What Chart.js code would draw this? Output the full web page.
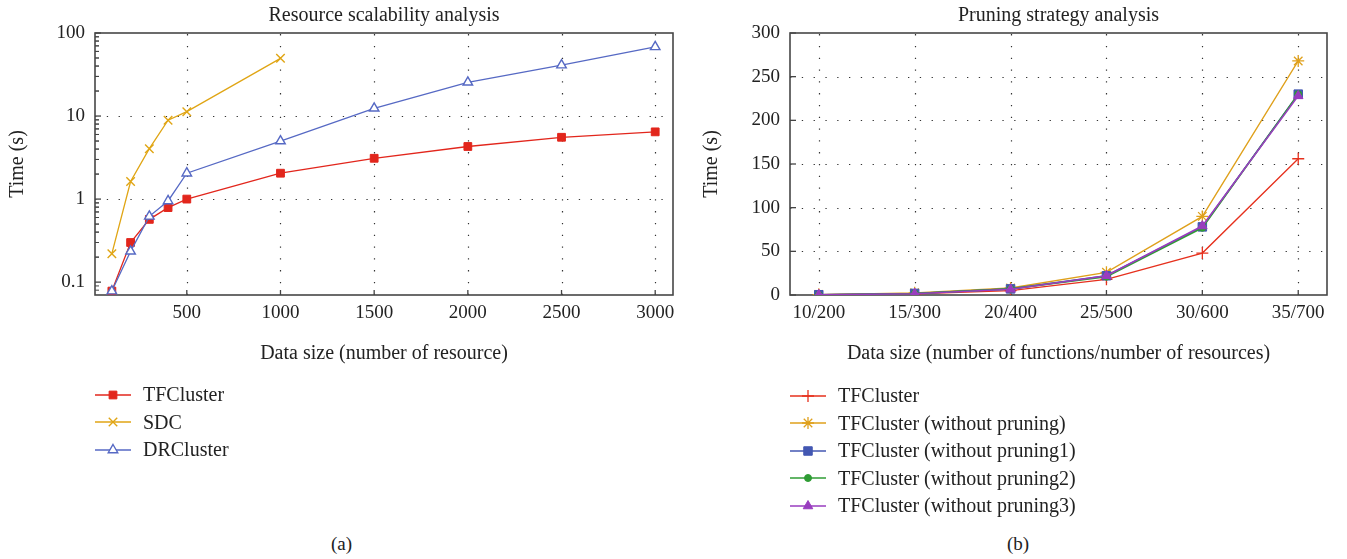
<!DOCTYPE html>
<html>
<head>
<meta charset="utf-8">
<title>Resource scalability and pruning strategy</title>
<script src="https://cdn.jsdelivr.net/npm/chart.js@4.4.1/dist/chart.umd.min.js"></script>
<style>
    body {
        margin: 0;
        background: #fff;
        width: 1347px;
        height: 559px;
        position: relative;
        overflow: hidden;
        font-family: "Liberation Serif", "DejaVu Serif", serif;
        color: #222;
    }
    .box { position: absolute; top: 0; height: 370px; }
    #boxA { left: 0; width: 690px; }
    #boxB { left: 690px; width: 657px; }
    .legend { position: absolute; font-size: 20px; }
    .legend .item { height: 27.5px; display: flex; align-items: center; white-space: nowrap; }
    .legend canvas { margin-right: 12px; }
    .caption { position: absolute; top: 533px; font-size: 19px; }
</style>
</head>
<body>
<div class="box" id="boxA"><canvas id="scalabilityChart"></canvas></div>
<div class="box" id="boxB"><canvas id="pruningChart"></canvas></div>
<div class="legend" id="legendA" style="left:95px; top:381px;"></div>
<div class="legend" id="legendB" style="left:790px; top:382px;"></div>
<div class="caption" style="left:331px;">(a)</div>
<div class="caption" style="left:1007px;">(b)</div>

<script>
// (a) resource scalability
const sizes = [100, 200, 300, 400, 500, 1000, 1500, 2000, 2500, 3000];
const sdcSizes = [100, 200, 300, 400, 500, 1000];
const tfcTimes = [0.078, 0.30, 0.57, 0.79, 1.0, 2.05, 3.1, 4.3, 5.55, 6.45];
const sdcTimes = [0.22, 1.63, 4.05, 8.9, 11.3, 49.5];
const drcTimes = [0.078, 0.235, 0.62, 0.95, 2.05, 5.0, 12.4, 25.5, 41, 68];
const xTicksA = [500, 1000, 1500, 2000, 2500, 3000];
const yTicksA = [0.1, 1, 10, 100];

// (b) pruning strategy
const groups = ['10/200', '15/300', '20/400', '25/500', '30/600', '35/700'];
const tfcPrune = [0.3, 1.2, 5, 18, 48, 156];
const noPrune = [0.5, 2.5, 8, 26, 90, 268];
const noPrune1 = [0.3, 1.8, 7, 22, 78, 230];
const noPrune2 = [0.3, 1.8, 7, 21, 77, 230];
const noPrune3 = [0.3, 1.5, 6.5, 22, 79, 228];
const yTicksB = [0, 50, 100, 150, 200, 250, 300];

const FAMILY = '"Liberation Serif", "DejaVu Serif", serif';
const FONT = { family: FAMILY, size: 20 };
const TICK_FONT = { family: FAMILY, size: 19 };
const INK = '#222';

// dotted grid, inward ticks and the box around the plot
const framePlugin = {
    id: 'frame',
    beforeDatasetsDraw(chart) {
        const { ctx, chartArea: a, scales: { x, y } } = chart;
        const isLog = y.type === 'logarithmic';
        ctx.save();
        ctx.strokeStyle = '#333';
        ctx.lineWidth = 1.2;
        ctx.setLineDash([1.3, 10.5]);
        x.ticks.forEach(t => {
            const px = Math.round(x.getPixelForValue(t.value)) + 0.5;
            if (px > a.left + 2 && px < a.right - 2) {
                ctx.beginPath(); ctx.moveTo(px, a.bottom); ctx.lineTo(px, a.top); ctx.stroke();
            }
        });
        y.ticks.forEach(t => {
            const py = Math.round(y.getPixelForValue(t.value)) + 0.5;
            if (isLog && t.value < 1) return;
            if (py > a.top + 2 && py < a.bottom - 2) {
                ctx.beginPath(); ctx.moveTo(a.left, py); ctx.lineTo(a.right, py); ctx.stroke();
            }
        });
        ctx.setLineDash([]);

        ctx.strokeStyle = '#444';
        ctx.lineWidth = 1.3;
        x.ticks.forEach(t => {
            const px = x.getPixelForValue(t.value);
            ctx.beginPath(); ctx.moveTo(px, a.bottom); ctx.lineTo(px, a.bottom - 5); ctx.stroke();
        });
        y.ticks.forEach(t => {
            const py = y.getPixelForValue(t.value);
            ctx.beginPath(); ctx.moveTo(a.left, py); ctx.lineTo(a.left + 6, py); ctx.stroke();
        });
        if (isLog) {
            ctx.lineWidth = 1;
            yTicksA.forEach(d => {
                for (let k = 2; k <= 9; k++) {
                    [d * k, d * k / 10].forEach(v => {
                        if (v <= y.min || v >= y.max) return;
                        const py = y.getPixelForValue(v);
                        ctx.beginPath(); ctx.moveTo(a.left, py); ctx.lineTo(a.left + 4, py); ctx.stroke();
                    });
                }
            });
        }

        ctx.strokeStyle = '#474747';
        ctx.lineWidth = 1.6;
        ctx.strokeRect(a.left, a.top, a.right - a.left, a.bottom - a.top);
        ctx.restore();
    }
};

function axisTitle(text, pad) {
    return { display: true, text: text, font: FONT, color: INK, padding: pad };
}

function chartTitle(text) {
    return {
        display: true, text: text, fullSize: false,
        font: { ...FONT, weight: 'normal' }, color: INK,
        padding: { top: 4, bottom: 5 }
    };
}

const common = {
    responsive: true,
    maintainAspectRatio: false,
    animation: false,
    events: [],
    elements: { line: { tension: 0 } }
};

const noGrid = { display: false, drawTicks: false };

const scalabilityChart = new Chart(document.getElementById('scalabilityChart').getContext('2d'), {
    type: 'line',
    data: {
        datasets: [{
            label: 'TFCluster',
            data: sizes.map((s, i) => ({ x: s, y: tfcTimes[i] })),
            borderColor: '#e2261c', backgroundColor: '#e2261c',
            borderWidth: 1.3, pointStyle: 'rect', pointRadius: 5.5, pointBorderWidth: 1,
            order: 3
        }, {
            label: 'SDC',
            data: sdcSizes.map((s, i) => ({ x: s, y: sdcTimes[i] })),
            borderColor: '#e0a514', backgroundColor: '#e0a514',
            borderWidth: 1.3, pointStyle: 'crossRot', pointRadius: 6, pointBorderWidth: 1.4,
            order: 2
        }, {
            label: 'DRCluster',
            data: sizes.map((s, i) => ({ x: s, y: drcTimes[i] })),
            borderColor: '#5669c4', backgroundColor: '#5669c4', pointBackgroundColor: '#fff',
            borderWidth: 1.3, pointStyle: 'triangle', pointRadius: 5.5, pointBorderWidth: 1.4,
            order: 1
        }]
    },
    options: {
        ...common,
        layout: { padding: { left: 0, right: 17, top: 0, bottom: 0 } },
        plugins: {
            legend: { display: false },
            tooltip: { enabled: false },
            title: chartTitle('Resource scalability analysis')
        },
        scales: {
            x: {
                type: 'linear', min: 10, max: 3095,
                afterBuildTicks: s => { s.ticks = xTicksA.map(v => ({ value: v })); },
                afterFit: s => { s.height = 75; },
                grid: noGrid, border: { display: false },
                ticks: { font: TICK_FONT, color: INK, padding: 7, autoSkip: false, maxRotation: 0, callback: v => String(v) },
                title: axisTitle('Data size (number of resource)', { top: 0, bottom: 4 })
            },
            y: {
                type: 'logarithmic', min: 0.07, max: 100,
                afterBuildTicks: s => { s.ticks = yTicksA.map(v => ({ value: v })); },
                afterFit: s => { s.width = 95; },
                grid: noGrid, border: { display: false },
                ticks: { font: TICK_FONT, color: INK, padding: 10, autoSkip: false, callback: v => String(v) },
                title: axisTitle('Time (s)', { top: 6, bottom: 0 })
            }
        }
    },
    plugins: [framePlugin]
});

const pruningChart = new Chart(document.getElementById('pruningChart').getContext('2d'), {
    type: 'line',
    data: {
        datasets: [{
            label: 'TFCluster',
            data: tfcPrune.map((v, i) => ({ x: i, y: v })),
            borderColor: '#e6301d', backgroundColor: '#e6301d',
            borderWidth: 1.3, pointStyle: 'cross', pointRadius: 6, pointBorderWidth: 1.3,
            order: 5
        }, {
            label: 'TFCluster (without pruning)',
            data: noPrune.map((v, i) => ({ x: i, y: v })),
            borderColor: '#dfa01b', backgroundColor: '#dfa01b',
            borderWidth: 1.3, pointStyle: 'star', pointRadius: 6, pointBorderWidth: 1.3,
            order: 4
        }, {
            label: 'TFCluster (without pruning1)',
            data: noPrune1.map((v, i) => ({ x: i, y: v })),
            borderColor: '#4357b2', backgroundColor: '#4357b2',
            borderWidth: 1.6, pointStyle: 'rect', pointRadius: 6, pointBorderWidth: 1,
            order: 3
        }, {
            label: 'TFCluster (without pruning2)',
            data: noPrune2.map((v, i) => ({ x: i, y: v })),
            borderColor: '#2f9c34', backgroundColor: '#2f9c34',
            borderWidth: 1.6, pointStyle: 'circle', pointRadius: 3.5, pointBorderWidth: 1,
            order: 2
        }, {
            label: 'TFCluster (without pruning3)',
            data: noPrune3.map((v, i) => ({ x: i, y: v })),
            borderColor: '#993dbf', backgroundColor: '#993dbf',
            borderWidth: 1.6, pointStyle: 'triangle', pointRadius: 5.5, pointBorderWidth: 1,
            order: 1
        }]
    },
    options: {
        ...common,
        layout: { padding: { left: 0, right: 20, top: 0, bottom: 0 } },
        plugins: {
            legend: { display: false },
            tooltip: { enabled: false },
            title: chartTitle('Pruning strategy analysis')
        },
        scales: {
            x: {
                type: 'linear', min: -0.3, max: 5.3,
                afterBuildTicks: s => { s.ticks = groups.map((g, i) => ({ value: i })); },
                afterFit: s => { s.height = 75; },
                grid: noGrid, border: { display: false },
                ticks: { font: TICK_FONT, color: INK, padding: 7, autoSkip: false, maxRotation: 0, callback: v => groups[v] },
                title: axisTitle('Data size (number of functions/number of resources)', { top: 0, bottom: 4 })
            },
            y: {
                type: 'linear', min: 0, max: 300,
                afterBuildTicks: s => { s.ticks = yTicksB.map(v => ({ value: v })); },
                afterFit: s => { s.width = 100; },
                grid: noGrid, border: { display: false },
                ticks: { font: TICK_FONT, color: INK, padding: 10, autoSkip: false, callback: v => String(v) },
                title: axisTitle('Time (s)', { top: 10, bottom: 0 })
            }
        }
    },
    plugins: [framePlugin]
});

// vertical legends below each plot, markers drawn with Chart.js helpers
function buildLegend(chart, id) {
    const box = document.getElementById(id);
    chart.data.datasets.forEach(ds => {
        const item = document.createElement('div');
        item.className = 'item';
        const c = document.createElement('canvas');
        c.width = 36; c.height = 20;
        const ctx = c.getContext('2d');
        ctx.strokeStyle = ds.borderColor;
        ctx.lineWidth = ds.borderWidth;
        ctx.beginPath(); ctx.moveTo(0, 10); ctx.lineTo(36, 10); ctx.stroke();
        ctx.fillStyle = ds.pointBackgroundColor || ds.backgroundColor;
        ctx.lineWidth = ds.pointBorderWidth;
        Chart.helpers.drawPoint(ctx, {
            pointStyle: ds.pointStyle, rotation: 0,
            radius: ds.pointRadius, borderWidth: ds.pointBorderWidth
        }, 18, 10);
        const label = document.createElement('span');
        label.textContent = ds.label;
        item.appendChild(c);
        item.appendChild(label);
        box.appendChild(item);
    });
}

buildLegend(scalabilityChart, 'legendA');
buildLegend(pruningChart, 'legendB');
</script>
</body>
</html>
